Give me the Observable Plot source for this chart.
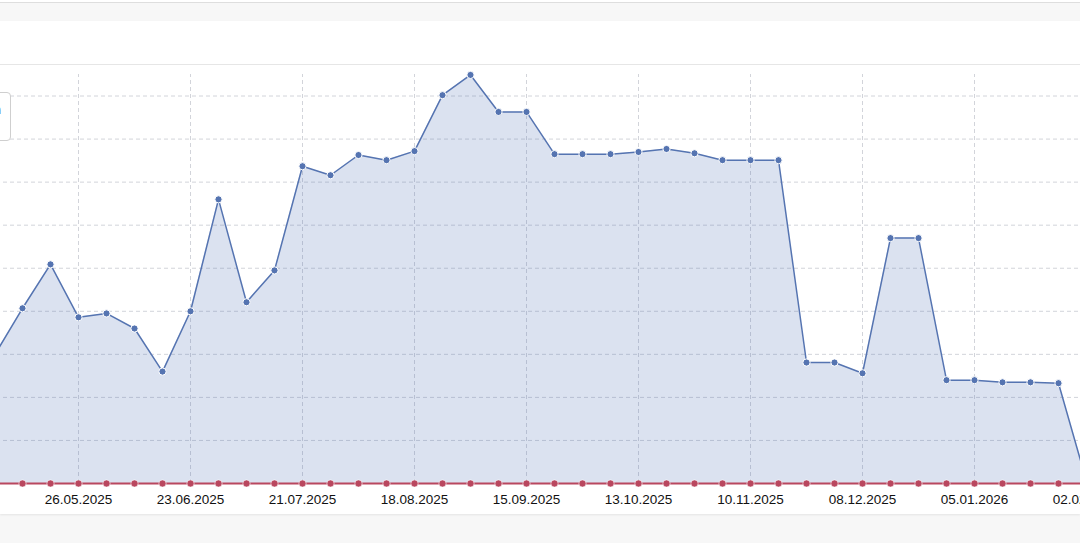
<!DOCTYPE html>
<html>
<head>
<meta charset="utf-8">
<script src="https://cdn.jsdelivr.net/npm/d3@7"></script>
<script src="https://cdn.jsdelivr.net/npm/@observablehq/plot@0.6"></script>
<style>
  html, body { margin: 0; padding: 0; width: 1080px; height: 543px; overflow: hidden; background: #f7f7f7; font-family: "Liberation Sans", Arial, sans-serif; }
  #topline { position: absolute; left: 0; top: 0; width: 1080px; height: 2px; background: #fff; border-bottom: 1px solid #dedede; }
  #panel { position: absolute; left: 0; top: 21px; width: 1080px; height: 493px; background: #fff; box-shadow: 0 1px 2px rgba(0,0,0,0.08); }
  #sep { position: absolute; left: 0; top: 64px; width: 1080px; height: 1px; background: #e6e6e6; }
  #chart { position: absolute; left: 0; top: 65px; width: 1080px; height: 449px; overflow: hidden; }
  #chart svg { margin-left: -60px; display: block; max-width: none !important; width: 1200px; height: 449px; }
  #legend { position: absolute; left: -190px; top: 92px; width: 199px; height: 47px; background: #fff; border: 1px solid #cfcfcf; border-radius: 4px; font-size: 13px; color: #222; box-sizing: content-box; }
  #legend .l1 { position: absolute; right: 9px; top: 9px; white-space: nowrap; }
  #legend .l2 { position: absolute; left: 10px; top: 27px; white-space: nowrap; }
</style>
</head>
<body>
<div id="topline"></div>
<div id="panel"></div>
<div id="sep"></div>
<div id="chart"></div>
<div id="legend"><div class="l1">Sichtbarkeitsindex Domain</div><div class="l2">Vergleich</div></div>
<script>
const dates = [
  "2025-05-05","2025-05-12","2025-05-19","2025-05-26","2025-06-02","2025-06-09","2025-06-16","2025-06-23","2025-06-30","2025-07-07",
  "2025-07-14","2025-07-21","2025-07-28","2025-08-04","2025-08-11","2025-08-18","2025-08-25","2025-09-01","2025-09-08","2025-09-15",
  "2025-09-22","2025-09-29","2025-10-06","2025-10-13","2025-10-20","2025-10-27","2025-11-03","2025-11-10","2025-11-17","2025-11-24",
  "2025-12-01","2025-12-08","2025-12-15","2025-12-22","2025-12-29","2026-01-05","2026-01-12","2026-01-19","2026-01-26","2026-02-02"
];
const mainValues = [
  2.98, 4.07, 5.09, 3.86, 3.95, 3.60, 2.60, 4.00, 6.60, 4.21,
  4.95, 7.37, 7.16, 7.63, 7.51, 7.72, 9.02, 9.49, 8.63, 8.63,
  7.65, 7.65, 7.65, 7.70, 7.77, 7.67, 7.51, 7.51, 7.51, 2.81,
  2.81, 2.56, 5.70, 5.70, 2.40, 2.40, 2.35, 2.35, 2.33, 0.05
];
const compareValues = [
  0, 0, 0, 0, 0, 0, 0, 0, 0, 0,
  0, 0, 0, 0, 0, 0, 0, 0, 0, 0,
  0, 0, 0, 0, 0, 0, 0, 0, 0, 0,
  0, 0, 0, 0, 0, 0, 0, 0, 0, 0
];
const tickDates = ["2025-05-26","2025-06-23","2025-07-21","2025-08-18","2025-09-15","2025-10-13","2025-11-10","2025-12-08","2026-01-05","2026-02-02"];
const gridValues = [1, 2, 3, 4, 5, 6, 7, 8, 9];

const parse = d3.utcParse("%Y-%m-%d");
const main = dates.map((d, i) => ({date: parse(d), value: mainValues[i]}));
const comp = dates.map((d, i) => ({date: parse(d), value: compareValues[i]}));
const ticks = tickDates.map(parse);

const blue = "#5574b1";
const red = "#b9475f";
const grid = "#d2d4da";

const chart = Plot.plot({
  width: 1200,
  height: 449,
  marginLeft: 0,
  marginRight: 0,
  marginTop: 9,
  marginBottom: 31,
  style: {fontFamily: "'Liberation Sans', Arial, sans-serif", fontSize: "13px", color: "#222", background: "transparent", maxWidth: "none"},
  x: {type: "utc", domain: [new Date(Date.UTC(2025, 3, 21, 12)), new Date(Date.UTC(2026, 1, 15, 12))]},
  y: {domain: [0, 9.5], axis: null},
  marks: [
    Plot.ruleY(gridValues, {stroke: grid, strokeDasharray: "4,3", strokeWidth: 1}),
    Plot.ruleX(ticks, {y1: 0, y2: 9.5, stroke: grid, strokeDasharray: "4,3", strokeWidth: 1}),
    Plot.areaY(main, {x: "date", y: "value", fill: "#4a6fb5", fillOpacity: 0.2}),
    Plot.lineY(main, {x: "date", y: "value", stroke: blue, strokeWidth: 1.5}),
    Plot.lineY(comp, {x: "date", y: "value", stroke: red, strokeWidth: 2}),
    Plot.dot(comp, {x: "date", y: "value", r: 3.6, fill: red, stroke: "white", strokeWidth: 0.6}),
    Plot.dot(main, {x: "date", y: "value", r: 3.6, fill: blue, stroke: "white", strokeWidth: 1}),
    Plot.axisX({ticks: ticks, tickFormat: d3.utcFormat("%d.%m.%Y"), tickSize: 0, tickPadding: 11, label: null, fill: "#111", fontSize: 13.5})
  ]
});
document.getElementById("chart").appendChild(chart);
</script>
</body>
</html>
